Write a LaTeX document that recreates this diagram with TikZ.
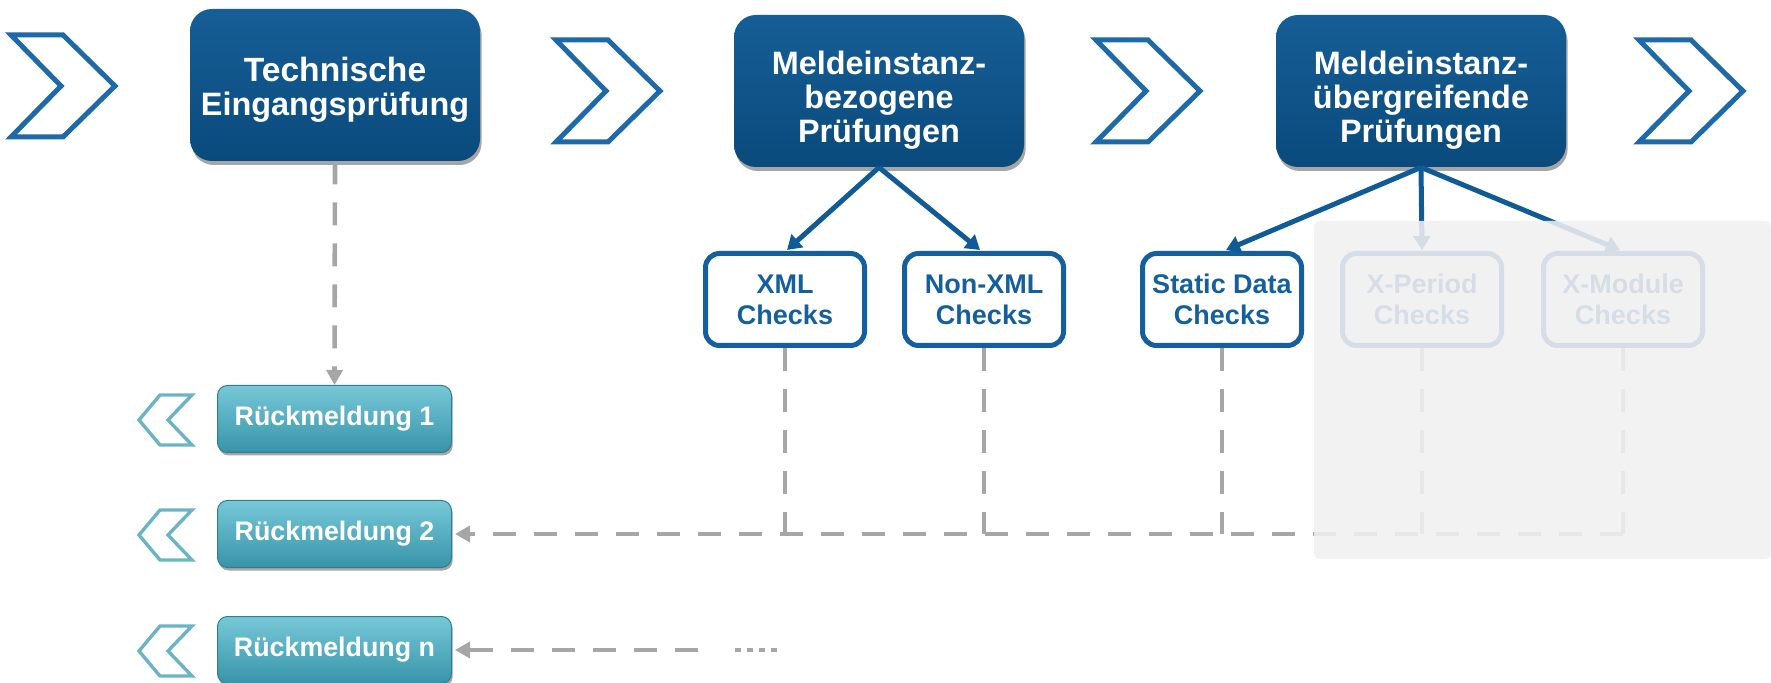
\documentclass[tikz,border=0pt]{standalone}
\usepackage{fontspec}
\setmainfont{Liberation Sans}
\usetikzlibrary{arrows.meta,shadows,calc}
\definecolor{mtop}{RGB}{22,94,150}
\definecolor{mbot}{RGB}{10,74,124}
\definecolor{chevblue}{RGB}{30,105,168}
\definecolor{subblue}{RGB}{20,96,158}
\definecolor{arrblue}{RGB}{16,90,150}
\definecolor{tealA}{RGB}{118,200,215}
\definecolor{tealB}{RGB}{56,148,170}
\definecolor{tealchev}{RGB}{106,180,196}
\definecolor{dgray}{RGB}{166,166,166}
\definecolor{overlaygray}{RGB}{240,240,240}
\begin{document}
\begin{tikzpicture}[x=0.5pt,y=-0.5pt,
  mainbox/.style={rounded corners=11pt, top color=mtop, bottom color=mbot, draw=none,
    minimum width=145pt, minimum height=76pt, align=center, text=white,
    font=\fontsize{16.2}{16.8}\selectfont\bfseries,
    drop shadow={shadow xshift=0.8pt, shadow yshift=-2pt, opacity=0.35, fill=black}},
  checkbox/.style={rounded corners=7pt, draw=subblue, line width=2.5pt, fill=white,
    minimum width=79.5pt, minimum height=46pt, text=subblue, align=center,
    font=\fontsize{13.5}{15.6}\selectfont\bfseries},
  rbox/.style={rounded corners=5pt, top color=tealA, bottom color=tealB, draw=tealB!85!black,
    line width=0.5pt, minimum width=117pt, minimum height=33.5pt, text=white,
    font=\fontsize{13.4}{15}\selectfont\bfseries,
    drop shadow={shadow xshift=0.6pt, shadow yshift=-1.5pt, opacity=0.35, fill=black}},
  chev/.style={draw=chevblue, line width=2.5pt, fill=white},
  lchev/.style={draw=tealchev, line width=1.7pt, fill=white},
  gline/.style={draw=dgray, line width=2.3pt, dash pattern=on 11.5pt off 9pt},
  garrow/.style={gline, -{Triangle[length=7.5pt,width=8pt]}},
  barr/.style={draw=arrblue, line width=2.5pt, -{Triangle[length=7pt,width=8.5pt]}}
]
\useasboundingbox (0,0) rectangle (1771,683);

% right-pointing chevrons
\foreach \cx/\cy in {63/86, 608/91, 1148/91, 1691/91}{
  \draw[chev, shift={(\cx,\cy)}] (-52,-51) -- (0,-51) -- (52,0) -- (0,51) -- (-52,51) -- (-2,0) -- cycle;
}
% left-pointing chevrons
\foreach \cy in {420, 535, 651}{
  \draw[lchev, shift={(166,\cy)}] (26,-25) -- (-6,-25) -- (-27,0) -- (-6,25) -- (26,25) -- (2,0) -- cycle;
}

% main boxes
\node[mainbox] (m1) at (335,85) {\rule{0pt}{17pt}\fontsize{16.8}{19.2}\selectfont Technische\\Eingangsprüfung};
\node[mainbox] (m2) at (879,91) {\rule{0pt}{21pt}Meldeinstanz-\\bezogene\\Prüfungen};
\node[mainbox] (m3) at (1421,91) {\rule{0pt}{21pt}Meldeinstanz-\\übergreifende\\Prüfungen};

% check boxes
\node[checkbox] (c1) at (785,299.5) {XML\\Checks};
\node[checkbox] (c2) at (984,299.5) {Non-XML\\Checks};
\node[checkbox] (c3) at (1222,299.5) {Static Data\\Checks};
\node[checkbox] (c4) at (1422,299.5) {X-Period\\Checks};
\node[checkbox] (c5) at (1623,299.5) {X-Module\\Checks};

% feedback boxes
\node[rbox] (r1) at (334.5,419) {Rückmeldung 1};
\node[rbox] (r2) at (334.5,534) {Rückmeldung 2};
\node[rbox] (rn) at (334.5,650) {Rückmeldung n};

% blue arrows
\draw[barr] (m2.south) -- ($(c1.north)+(2,-1)$);
\draw[barr] (m2.south) -- ($(c2.north)+(-4,-1)$);
\draw[barr] (m3.south) -- ($(c3.north)+(4,-1)$);
\draw[barr] (m3.south) -- ($(c4.north)+(0,-1)$);
\draw[barr] (m3.south) -- ($(c5.north)+(-3,-1)$);

% gray dashed connectors
\draw[garrow] (m1.south) -- (r1.north);
\foreach \c in {c1,c2,c3,c4,c5}{
  \draw[gline] (\c.south) -- (\c.south |- r2.east);
}
\draw[garrow] (c5.south |- r2.east) -- ($(r2.east)+(3,0)$);
\coordinate (rnstart) at (698,650);
\draw[garrow] (rnstart) -- ($(rn.east)+(3,0)$);
\coordinate (dotsA) at (735,650);
\coordinate (dotsB) at (777,650);
\draw[draw=dgray, line width=2.3pt, dash pattern=on 3pt off 3pt] (dotsA) -- (dotsB);

% translucent overlay
\fill[overlaygray, opacity=0.88, rounded corners=3pt] (1314,221) rectangle (1771,559);
\end{tikzpicture}
\end{document}
